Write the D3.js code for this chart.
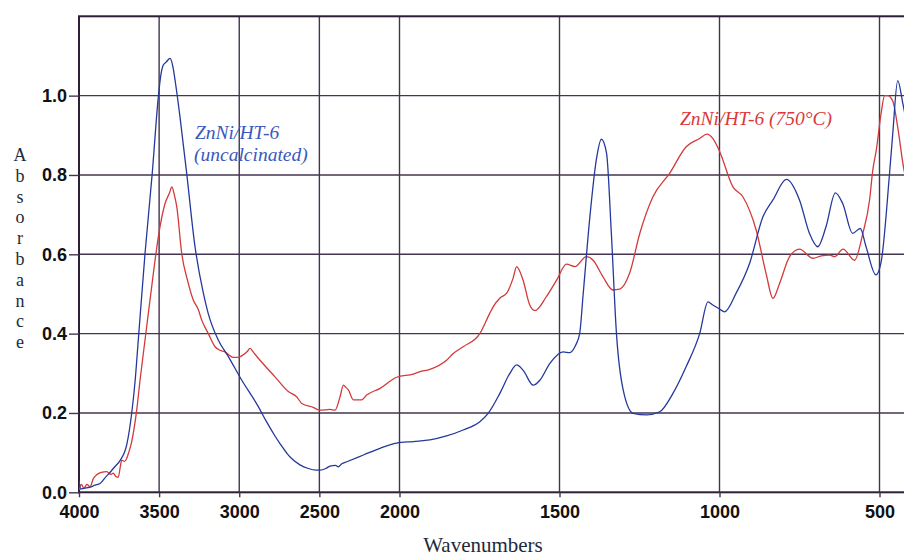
<!DOCTYPE html>
<html>
<head>
<meta charset="utf-8">
<script src="https://cdnjs.cloudflare.com/ajax/libs/d3/7.8.5/d3.min.js"></script>
<style>
  html, body { margin: 0; padding: 0; background: #fff; }
  svg { display: block; }
  .tick text { font-family: "Liberation Sans", Arial, sans-serif; font-weight: bold; font-size: 18px; fill: #111; }
</style>
</head>
<body>
<div id="chart"></div>
<script>
// FTIR spectra, absorbance vs wavenumber (cm-1)
var uncalcWn = [4000, 3990, 3970, 3931, 3900, 3869, 3830, 3807, 3775, 3744, 3702, 3671, 3650, 3630, 3588, 3543, 3505, 3490, 3474, 3455, 3432, 3415, 3401, 3370, 3328, 3276, 3224, 3193, 3131, 3068, 2985, 2881, 2830, 2777, 2746, 2700, 2673, 2621, 2569, 2520, 2496, 2460, 2434, 2400, 2382, 2360, 2329, 2225, 2121, 2018, 1957, 1905, 1853, 1801, 1749, 1723, 1686, 1655, 1634, 1614, 1582, 1561, 1530, 1489, 1468, 1450, 1437, 1426, 1405, 1385, 1369, 1353, 1338, 1322, 1301, 1270, 1228, 1187, 1145, 1104, 1062, 1036, 1021, 1000, 984, 948, 906, 864, 833, 791, 750, 719, 693, 667, 638, 615, 584, 560, 542, 511, 495, 469, 459, 443, 427, 415];
var uncalcAbs = [0.03, 0.008, 0.01, 0.013, 0.018, 0.022, 0.04, 0.05, 0.065, 0.08, 0.12, 0.2, 0.28, 0.384, 0.602, 0.804, 0.997, 1.05, 1.077, 1.085, 1.094, 1.075, 1.04, 0.947, 0.804, 0.619, 0.502, 0.45, 0.384, 0.342, 0.283, 0.216, 0.178, 0.142, 0.123, 0.097, 0.085, 0.069, 0.06, 0.056, 0.056, 0.06, 0.066, 0.068, 0.064, 0.072, 0.077, 0.094, 0.111, 0.124, 0.128, 0.132, 0.142, 0.157, 0.178, 0.199, 0.25, 0.3, 0.321, 0.308, 0.27, 0.283, 0.325, 0.354, 0.352, 0.37, 0.4, 0.5, 0.695, 0.838, 0.89, 0.855, 0.653, 0.4, 0.258, 0.199, 0.195, 0.203, 0.25, 0.317, 0.4, 0.48, 0.472, 0.462, 0.455, 0.502, 0.577, 0.695, 0.737, 0.789, 0.737, 0.653, 0.619, 0.67, 0.755, 0.728, 0.653, 0.665, 0.619, 0.548, 0.58, 0.8, 0.9, 1.038, 0.98, 0.93];

var calcWn = [4000, 3985, 3970, 3950, 3931, 3910, 3890, 3860, 3827, 3800, 3786, 3770, 3755, 3740, 3734, 3715, 3702, 3690, 3671, 3640, 3619, 3588, 3536, 3505, 3463, 3435, 3421, 3405, 3390, 3359, 3320, 3287, 3255, 3234, 3193, 3151, 3120, 3089, 3060, 3037, 3010, 2985, 2950, 2933, 2910, 2881, 2777, 2694, 2642, 2610, 2538, 2496, 2434, 2402, 2371, 2350, 2335, 2319, 2288, 2236, 2205, 2121, 2018, 1957, 1936, 1905, 1853, 1832, 1801, 1749, 1718, 1707, 1686, 1665, 1645, 1634, 1614, 1593, 1577, 1541, 1509, 1478, 1452, 1416, 1395, 1364, 1333, 1312, 1281, 1249, 1208, 1156, 1104, 1062, 1039, 1021, 1000, 958, 927, 885, 854, 833, 812, 781, 750, 708, 682, 656, 640, 614, 578, 552, 531, 521, 510, 495, 484, 474, 458, 443, 425, 415];
var calcAbs = [0.006, 0.02, 0.01, 0.02, 0.014, 0.035, 0.044, 0.05, 0.052, 0.045, 0.048, 0.04, 0.038, 0.07, 0.081, 0.078, 0.086, 0.1, 0.128, 0.207, 0.283, 0.384, 0.552, 0.644, 0.728, 0.755, 0.77, 0.75, 0.72, 0.602, 0.53, 0.485, 0.46, 0.434, 0.4, 0.367, 0.358, 0.354, 0.345, 0.34, 0.34, 0.344, 0.355, 0.363, 0.352, 0.338, 0.291, 0.254, 0.241, 0.224, 0.214, 0.207, 0.209, 0.207, 0.241, 0.27, 0.265, 0.258, 0.233, 0.233, 0.245, 0.262, 0.29, 0.298, 0.304, 0.31, 0.333, 0.35, 0.367, 0.4, 0.451, 0.468, 0.49, 0.502, 0.54, 0.569, 0.535, 0.472, 0.458, 0.493, 0.535, 0.575, 0.569, 0.594, 0.585, 0.543, 0.51, 0.512, 0.552, 0.653, 0.745, 0.804, 0.871, 0.892, 0.903, 0.892, 0.86, 0.77, 0.745, 0.66, 0.55, 0.489, 0.527, 0.594, 0.613, 0.59, 0.596, 0.598, 0.594, 0.613, 0.585, 0.653, 0.737, 0.812, 0.863, 0.955, 1.0, 1.0, 0.985, 0.92, 0.82, 0.78];

var xTicks = [4000, 3500, 3000, 2500, 2000, 1500, 1000, 500];
var yTicks = [0, 0.2, 0.4, 0.6, 0.8, 1.0];
var yLabel = "Absorbance";

(function(){

var W = 904, H = 556;
var pLeft = 79, pTop = 16.3, pBottom = 492.3, pRight = 911.5;

var svg = d3.select("#chart").append("svg")
  .attr("width", W).attr("height", H)
  .attr("viewBox", "0 0 " + W + " " + H);

// the spectrometer plot doubles the scale below 2000 cm-1
var x = d3.scaleLinear().domain([4000, 2000, 400]).range([pLeft, 399.5, pRight]);
var y = d3.scaleLinear().domain([0, 1.2]).range([pBottom, pTop]);

var gridColor = "#43354f";

svg.append("g").selectAll("line")
  .data(xTicks.slice(1))
  .enter().append("line")
  .attr("x1", d => x(d)).attr("x2", d => x(d))
  .attr("y1", pTop).attr("y2", pBottom)
  .attr("stroke", gridColor).attr("stroke-width", 1.4);

svg.append("g").selectAll("line")
  .data(yTicks.slice(1))
  .enter().append("line")
  .attr("x1", pLeft).attr("x2", W)
  .attr("y1", d => y(d)).attr("y2", d => y(d))
  .attr("stroke", gridColor).attr("stroke-width", 1.4);

// frame
svg.append("rect")
  .attr("x", pLeft).attr("y", pTop)
  .attr("width", pRight - pLeft).attr("height", pBottom - pTop)
  .attr("fill", "none").attr("stroke", "#2b2036").attr("stroke-width", 2);

svg.append("clipPath").attr("id", "plot")
  .append("rect").attr("x", pLeft).attr("y", pTop)
  .attr("width", pRight - pLeft).attr("height", pBottom - pTop);

var line = d3.line()
  .x(d => x(d[0])).y(d => y(d[1]))
  .curve(d3.curveMonotoneX);

var series = [
  {wn: calcWn, abs: calcAbs, color: "#d33a3a"},
  {wn: uncalcWn, abs: uncalcAbs, color: "#25389c"}
];

series.forEach(s => {
  svg.append("path")
    .datum(d3.zip(s.wn, s.abs))
    .attr("clip-path", "url(#plot)")
    .attr("fill", "none")
    .attr("stroke", s.color)
    .attr("stroke-width", 1.3)
    .attr("d", line);
});

var yAxis = svg.append("g")
  .attr("transform", "translate(" + pLeft + ",0)")
  .call(d3.axisLeft(y).tickValues(yTicks).tickFormat(d3.format(".1f")).tickSize(10).tickPadding(2));
yAxis.select(".domain").remove();
yAxis.selectAll(".tick line").attr("stroke", gridColor).attr("stroke-width", 1.4);

var xAxis = svg.append("g")
  .attr("transform", "translate(0," + pBottom + ")")
  .call(d3.axisBottom(x).tickValues(xTicks).tickFormat(d3.format("d")).tickSize(5).tickPadding(8));
xAxis.select(".domain").remove();
xAxis.selectAll(".tick line").attr("stroke", gridColor).attr("stroke-width", 1.4);

svg.append("text")
  .attr("x", 483).attr("y", 552)
  .attr("text-anchor", "middle")
  .style("font-family", "'Liberation Serif', 'Times New Roman', serif")
  .style("font-size", "21px")
  .style("fill", "#1e2a3a")
  .text("Wavenumbers");

// vertical stacked axis title
svg.append("g").selectAll("text")
  .data(yLabel.split(""))
  .enter().append("text")
  .attr("x", 20)
  .attr("y", (d, i) => 161 + i * 20.8)
  .attr("text-anchor", "middle")
  .style("font-family", "'Liberation Serif', 'Times New Roman', serif")
  .style("font-size", "18px")
  .style("fill", "#1e2a3a")
  .text(d => d);

var note = svg.append("g")
  .style("font-family", "'Liberation Serif', 'Times New Roman', serif")
  .style("font-style", "italic")
  .style("font-size", "19.5px");

note.append("text").attr("x", 195).attr("y", 139)
  .style("fill", "#3b58bd").text("ZnNi/HT-6");
note.append("text").attr("x", 194).attr("y", 161)
  .style("fill", "#3b58bd").text("(uncalcinated)");
note.append("text").attr("x", 680).attr("y", 125)
  .style("fill", "#d9393d").text("ZnNi/HT-6 (750\u00B0C)");

})();
</script>
</body>
</html>
